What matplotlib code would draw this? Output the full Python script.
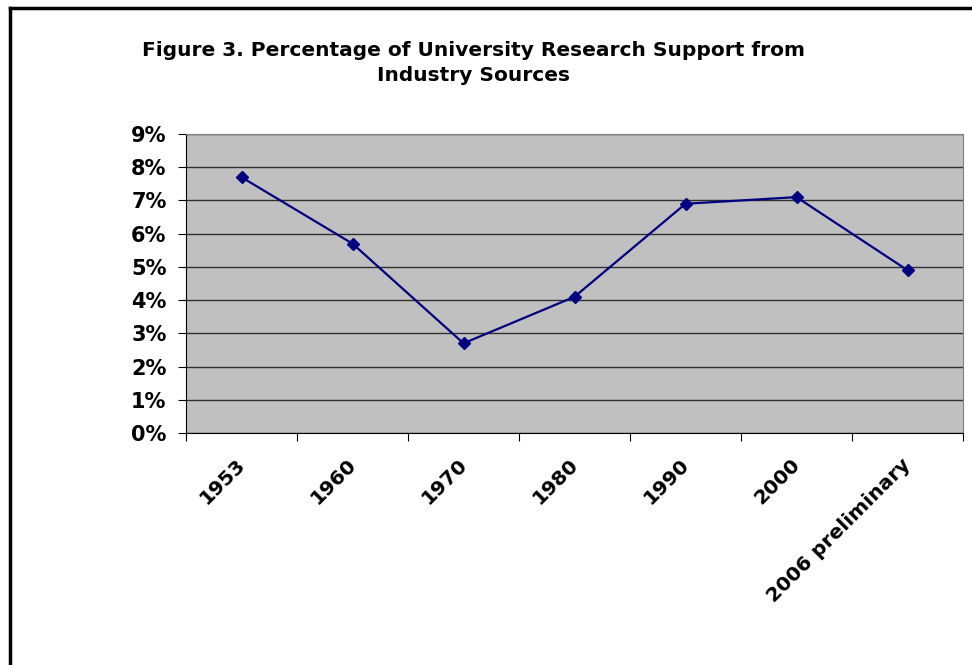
import matplotlib.pyplot as plt
import matplotlib.transforms as mtransforms
from matplotlib.lines import Line2D
from matplotlib.ticker import FuncFormatter, MultipleLocator

years = ["1953", "1960", "1970", "1980", "1990", "2000", "2006 preliminary"]
industry_pct = [7.7, 5.7, 2.7, 4.1, 6.9, 7.1, 4.9]

plt.rcParams['font.family'] = 'DejaVu Sans'
plt.rcParams['font.weight'] = 'bold'

fig = plt.figure(figsize=(9.72, 6.65), dpi=100)
W, H = 972, 665
ax = fig.add_axes([186 / W, 1 - 433 / H, (963 - 186) / W, (433 - 134) / H])

ax.set_facecolor('#c0c0c0')
x = range(len(years))
ax.plot(x, industry_pct, color='#000080', marker='D', markersize=6.5, linewidth=1.6, zorder=3)

ax.set_ylim(0, 9)
ax.set_xlim(-0.5, len(years) - 0.5)
ax.yaxis.set_major_locator(MultipleLocator(1))
ax.yaxis.set_major_formatter(FuncFormatter(lambda v, p: "%d%%" % v))
ax.grid(axis='y', color='#303030', linewidth=1)
ax.set_axisbelow(True)

# category boundary ticks like the spreadsheet chart
ax.set_xticks([i - 0.5 for i in range(len(years) + 1)], minor=False)
ax.set_xticklabels([])
ax.set_xticks(list(x), minor=True)
ax.set_xticklabels(years, minor=True, rotation=45, ha='right', rotation_mode='anchor',
                   fontsize=14.5, fontweight='bold')
ax.tick_params(axis='x', which='minor', length=0, pad=16)
ax.tick_params(axis='x', which='major', length=6, color='black')
ax.tick_params(axis='y', length=6, labelsize=15, pad=8)

shift = mtransforms.ScaledTranslation(-6 / 100, 0, fig.dpi_scale_trans)
for lbl in ax.get_xticklabels(minor=True):
    lbl.set_transform(lbl.get_transform() + shift)

for s in ax.spines.values():
    s.set_color('#808080')
ax.spines['left'].set_color('black')
ax.spines['bottom'].set_color('black')

fig.text(473 / W, 1 - 63 / H, "Figure 3. Percentage of University Research Support from\nIndustry Sources",
         ha='center', va='center', fontsize=14.5, fontweight='bold', linespacing=1.35)

# outer frame (left and top edges visible)
fig.add_artist(Line2D([10 / W, 10 / W], [0, 1 - 8 / H], color='black', linewidth=2.5))
fig.add_artist(Line2D([10 / W, 1], [1 - 8 / H, 1 - 8 / H], color='black', linewidth=2.5))

fig.savefig('out.png', dpi=100)
